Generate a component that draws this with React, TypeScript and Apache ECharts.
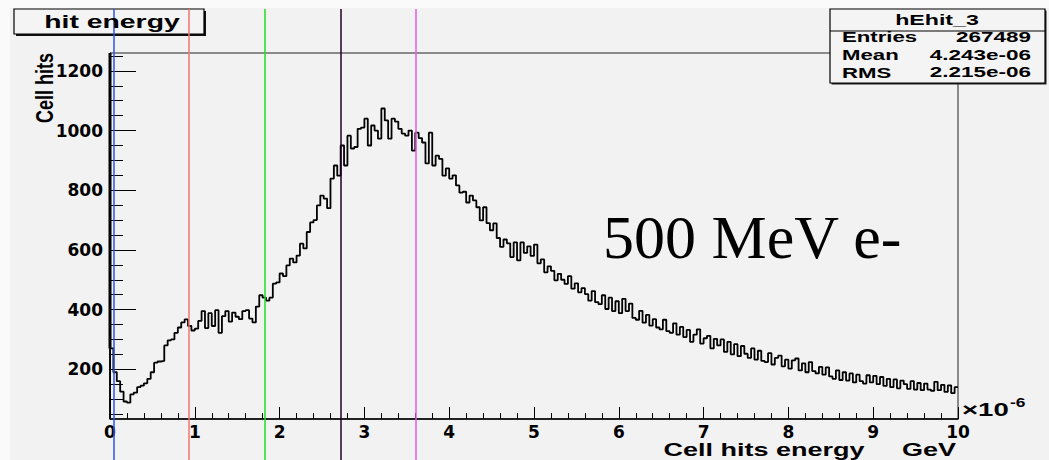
import React, { useEffect, useRef } from "react";
import * as echarts from "echarts";

// Histogram: 250 bins from 0 to 10 (×10^-6 GeV)
const binWidth = 0.04;
const cellHits = [
  270, 190, 160, 125, 92, 88, 116, 122, 140, 145,
  153, 168, 190, 222, 226, 228, 280, 297, 300, 322,
  340, 357, 367, 345, 330, 336, 362, 395, 338, 388,
  345, 398, 322, 378, 395, 360, 390, 376, 368, 395,
  398, 370, 357, 410, 448, 440, 430, 440, 487, 491,
  521, 512, 548, 571, 558, 581, 621, 605, 660, 692,
  700, 749, 782, 772, 740, 839, 883, 849, 950, 883,
  983, 940, 945, 1006, 1010, 1040, 950, 1017, 1000, 973,
  1074, 1034, 973, 1040, 1030, 1006, 990, 983, 1000, 933,
  993, 975, 960, 890, 993, 883, 916, 905, 849, 873,
  839, 850, 816, 792, 795, 759, 782, 766, 743, 699,
  743, 690, 666, 689, 640, 610, 635, 622, 576, 625,
  565, 625, 590, 612, 580, 618, 555, 568, 525, 545,
  530, 498, 520, 500, 486, 512, 470, 488, 458, 472,
  452, 430, 462, 425, 418, 448, 402, 440, 395, 428,
  388, 436, 395, 420, 372, 366, 396, 356, 382, 346,
  368, 340, 334, 366, 328, 322, 354, 316, 342, 308,
  332, 292, 316, 334, 286, 304, 312, 270, 302, 280,
  300, 258, 292, 250, 284, 244, 278, 252, 238, 270,
  232, 262, 228, 224, 254, 216, 238, 246, 210, 232,
  202, 230, 236, 196, 220, 190, 224, 194, 186, 208,
  182, 206, 176, 168, 196, 164, 190, 162, 186, 156,
  182, 160, 152, 180, 156, 178, 150, 174, 144, 168,
  140, 166, 136, 162, 150, 134, 160, 132, 154, 130,
  152, 132, 128, 158, 130, 148, 124, 146, 120, 140,
];

const xMin = 0;
const xMax = 10;
const yMin = 33.3;
const yMax = 1260;
const yMajorTicks = [200, 400, 600, 800, 1000, 1200];
const yMinorTicks = [
  50, 100, 150, 250, 300, 350, 450, 500, 550, 650, 700, 750, 850, 900, 950,
  1050, 1100, 1150, 1250,
];

// vertical marker lines (x in 10^-6 GeV)
const markerX = [0.04, 0.93, 1.83, 2.72, 3.61];
const markerColors = ["#2f55e4", "#f07474", "#22dd22", "#220022", "#e858e8"];

const histTitle = "hit energy";
const statsTitle = "hEhit_3";
const statsLabels = ["Entries", "Mean", "RMS"];
const statsValues = ["267489", "4.243e-06", "2.215e-06"];
const xTitle = "Cell hits energy     GeV";
const yTitle = "Cell hits";
const annotation = "500 MeV e-";

const sans = "Liberation Sans";
const tickFont = "DejaVu Sans";

export default function App() {
  const ref = useRef<HTMLDivElement>(null);

  useEffect(() => {
    if (!ref.current) return;
    const chart = echarts.init(ref.current, null, { renderer: "svg" });

    const histData: number[][] = [[0, yMin]];
    cellHits.forEach((v, i) => histData.push([i * binWidth, v]));
    histData.push([cellHits.length * binWidth, cellHits[cellHits.length - 1]]);

    const txt = (
      text: string,
      x: number,
      y: number,
      opts: any = {}
    ): any => ({
      type: "text",
      x,
      y,
      z: opts.z ?? 6,
      scaleX: opts.scaleX ?? 1,
      scaleY: opts.scaleY ?? 1,
      rotation: opts.rotation ?? 0,
      silent: true,
      style: {
        text,
        fill: "#000",
        fontFamily: opts.fontFamily ?? sans,
        fontWeight: opts.fontWeight ?? "bold",
        fontSize: opts.fontSize ?? 14,
        textAlign: opts.align ?? "left",
        align: opts.align ?? "left",
        textVerticalAlign: "middle",
        verticalAlign: "middle",
      },
    });

    const statsRowsY = [37, 55, 72.5];

    const graphics: any[] = [
      // page margins (lighter)
      { type: "rect", z: 0, silent: true, shape: { x: 0, y: 0, width: 10, height: 460 }, style: { fill: "#fafafa" } },
      { type: "rect", z: 0, silent: true, shape: { x: 0, y: 0, width: 1049, height: 8 }, style: { fill: "#fafafa" } },
      // title box
      { type: "rect", z: 4, silent: true, shape: { x: 16, y: 11, width: 190, height: 25 }, style: { fill: "#111" } },
      { type: "rect", z: 5, silent: true, shape: { x: 14, y: 9, width: 190, height: 25 }, style: { fill: "#f4f4f4", stroke: "#000", lineWidth: 1.2 } },
      txt(histTitle, 112, 22, { fontSize: 17.5, scaleX: 1.62, align: "center" }),
      // stats box
      { type: "rect", z: 4, silent: true, shape: { x: 831.5, y: 10.5, width: 215, height: 74 }, style: { fill: "#222" } },
      { type: "rect", z: 5, silent: true, shape: { x: 830, y: 9, width: 215, height: 74 }, style: { fill: "#f4f4f4", stroke: "#000", lineWidth: 1.2 } },
      { type: "line", z: 6, silent: true, shape: { x1: 830, y1: 31, x2: 1045, y2: 31 }, style: { stroke: "#000", lineWidth: 1.2 } },
      txt(statsTitle, 937, 20, { fontSize: 14.5, scaleX: 1.6, align: "center" }),
      ...statsLabels.map((s, i) => txt(s, 842, statsRowsY[i], { fontSize: 14.5, scaleX: 1.53 })),
      ...statsValues.map((s, i) => txt(s, 1031, statsRowsY[i], { fontSize: 14.5, scaleX: 1.55, align: "right" })),
      // axis titles
      txt(xTitle, 956, 450, { fontSize: 18, scaleX: 1.5, align: "right" }),
      txt(yTitle, 45, 53, { fontSize: 18, scaleY: 1.3, rotation: Math.PI / 2, align: "right" }),
      // exponent
      txt("\u00d710", 962, 410, { fontSize: 19, scaleX: 1.45 }),
      txt("-6", 1010, 403, { fontSize: 12, scaleX: 1.45 }),
      // annotation
      txt(annotation, 603, 237, { fontSize: 62, fontFamily: "Liberation Serif", fontWeight: "normal" }),
    ];

    const option: any = {
      animation: false,
      backgroundColor: "#f2f2f2",
      grid: [
        { left: 110, right: 91, top: 53, bottom: 41, show: true, borderColor: "#222", borderWidth: 1, backgroundColor: "transparent" },
        { left: 110, right: 91, top: 9, bottom: 0, show: false },
      ],
      xAxis: [
        {
          gridIndex: 0,
          type: "value",
          min: xMin,
          max: xMax,
          interval: 1,
          axisLine: { show: true, onZero: false, lineStyle: { color: "#000", width: 1.5 } },
          axisTick: { show: true, inside: true, length: 12, lineStyle: { color: "#000", width: 1 } },
          minorTick: { show: true, splitNumber: 5, length: 6, lineStyle: { color: "#000", width: 1 } },
          splitLine: { show: false },
          minorSplitLine: { show: false },
          axisLabel: { margin: 4, fontFamily: tickFont, fontWeight: "bold", fontSize: 17, color: "#000", formatter: (v: number) => String(v) },
        },
        { gridIndex: 1, type: "value", min: xMin, max: xMax, show: false },
      ],
      yAxis: [
        {
          gridIndex: 0,
          type: "value",
          min: yMin,
          max: yMax,
          axisLine: { show: true, onZero: false, lineStyle: { color: "#000", width: 1 } },
          axisTick: { show: true, inside: true, length: 26, customValues: yMajorTicks, lineStyle: { color: "#000", width: 1 } },
          axisLabel: { show: true, customValues: yMajorTicks, margin: 7, fontFamily: tickFont, fontWeight: "bold", fontSize: 17, color: "#000", formatter: (v: number) => String(v) },
          splitLine: { show: false },
        },
        {
          gridIndex: 0,
          type: "value",
          min: yMin,
          max: yMax,
          position: "left",
          axisLine: { show: false },
          axisTick: { show: true, inside: true, length: 13, customValues: yMinorTicks, lineStyle: { color: "#000", width: 1 } },
          axisLabel: { show: false },
          splitLine: { show: false },
        },
        { gridIndex: 1, type: "value", min: 0, max: 1, show: false },
      ],
      series: [
        {
          name: "hEhit_3",
          type: "line",
          xAxisIndex: 0,
          yAxisIndex: 0,
          data: histData,
          step: "end",
          symbol: "none",
          clip: true,
          lineStyle: { color: "#000", width: 1.8 },
          z: 3,
        },
        {
          name: "edge",
          type: "line",
          xAxisIndex: 0,
          yAxisIndex: 0,
          data: [[0, cellHits[0]], [0, yMax]],
          symbol: "none",
          lineStyle: { color: "#000", width: 3 },
          z: 3,
        },
        {
          name: "markers",
          type: "line",
          xAxisIndex: 1,
          yAxisIndex: 2,
          data: [],
          symbol: "none",
          z: 20,
          markLine: {
            silent: true,
            symbol: ["none", "none"],
            label: { show: false },
            animation: false,
            data: markerX.map((x, i) => ({
              xAxis: x,
              lineStyle: { color: markerColors[i], width: 1.5, type: "solid" },
            })),
          },
        },
      ],
      graphic: graphics,
    };

    chart.setOption(option);
    return () => chart.dispose();
  }, []);

  return (
    <div style={{ position: "absolute", left: 0, top: 0, width: 1049, height: 460 }}>
      <div ref={ref} style={{ width: 1049, height: 460 }} />
    </div>
  );
}
